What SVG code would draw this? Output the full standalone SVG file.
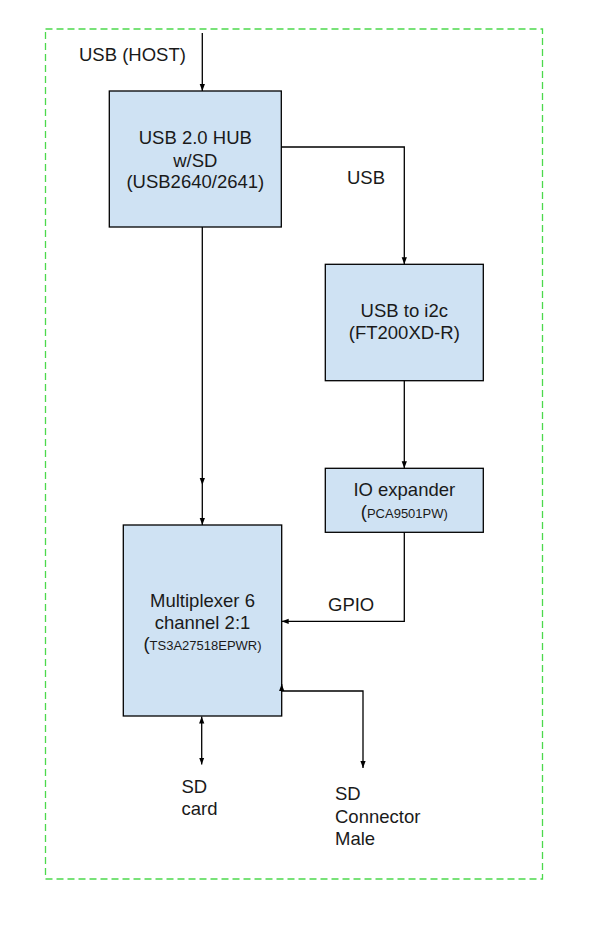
<svg xmlns="http://www.w3.org/2000/svg" width="605" height="938" viewBox="0 0 605 938">
<defs>
<marker id="arr" viewBox="0 0 8 8" refX="8" refY="4" markerWidth="7" markerHeight="7" markerUnits="userSpaceOnUse" orient="auto-start-reverse">
<path d="M0,1 L8,4 L0,7 z" fill="#000"/>
</marker>
<style>
.box{fill:#cfe2f3;stroke:#000;stroke-width:1.3}
.t{font-family:"Liberation Sans",Arial,sans-serif;font-size:18.5px;fill:#1a1a1a}
.c{text-anchor:middle}
.s{font-size:13px}
.ln{fill:none;stroke:#000;stroke-width:1.3}
</style>
</defs>
<rect x="45.5" y="29" width="497" height="850" fill="none" stroke="#4cd94c" stroke-width="1.3" stroke-dasharray="7,4"/>
<text class="t" x="79" y="61">USB (HOST)</text>
<text class="t" x="347" y="184">USB</text>
<text class="t" x="328" y="611">GPIO</text>
<text class="t" x="181.5" y="792.5">SD</text>
<text class="t" x="181.5" y="815">card</text>
<text class="t" x="335" y="800">SD</text>
<text class="t" x="335" y="822.5">Connector</text>
<text class="t" x="335" y="845">Male</text>
<g id="hub">
<rect class="box" x="109.3" y="91" width="172" height="136"/>
<text class="t c" x="195.3" y="144">USB 2.0 HUB</text>
<text class="t c" x="195.3" y="166.5">w/SD</text>
<text class="t c" x="195.3" y="188">(USB2640/2641)</text>
</g>
<g id="usb2i2c">
<rect class="box" x="325.3" y="264.3" width="158" height="116.4"/>
<text class="t c" x="404.3" y="317">USB to i2c</text>
<text class="t c" x="404.3" y="338.5">(FT200XD-R)</text>
</g>
<g id="ioexp">
<rect class="box" x="325.3" y="468.3" width="158" height="64"/>
<text class="t c" x="404.3" y="496">IO expander</text>
<text class="t c" x="404.3" y="518">(<tspan class="s">PCA9501PW)</tspan></text>
</g>
<g id="mux">
<rect class="box" x="123.3" y="525" width="158.4" height="191"/>
<text class="t c" x="202.5" y="606.5">Multiplexer 6</text>
<text class="t c" x="202.5" y="628.5">channel 2:1</text>
<text class="t c" x="202.5" y="650">(<tspan class="s">TS3A27518EPWR)</tspan></text>
</g>
<g id="connectors">
<path class="ln" d="M202.3,33 V91" marker-end="url(#arr)"/>
<path class="ln" d="M281.3,147 H404.3 V264.3" marker-end="url(#arr)"/>
<path class="ln" d="M404.3,380.7 V468.3" marker-end="url(#arr)"/>
<path class="ln" d="M202.3,227 V485" marker-end="url(#arr)"/>
<path class="ln" d="M202.3,485 V525" marker-end="url(#arr)"/>
<path class="ln" d="M404.3,532.3 V621.3 H281.7" marker-end="url(#arr)"/>
<path class="ln" d="M281.7,684 V691 H363 V768" marker-start="url(#arr)" marker-end="url(#arr)"/>
<path class="ln" d="M201.7,716.5 V764.5" marker-start="url(#arr)" marker-end="url(#arr)"/>
</g>
</svg>
